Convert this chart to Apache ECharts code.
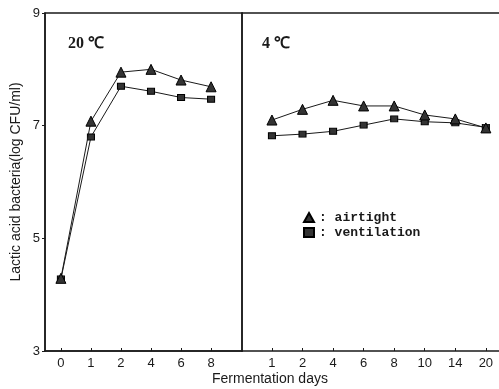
<!DOCTYPE html>
<html>
<head>
<meta charset="utf-8">
<script src="https://cdn.jsdelivr.net/npm/echarts@6/dist/echarts.min.js"></script>
<style>html,body{margin:0;padding:0;background:#fff}#c{width:499px;height:389px}</style>
</head>
<body>
<div id="c"></div>
<script>
var days20 = ['0', '1', '2', '4', '6', '8'];
var days4 = ['1', '2', '4', '6', '8', '10', '14', '20'];
var airtight20 = [4.29, 7.08, 7.95, 8.0, 7.81, 7.69];
var ventilation20 = [4.28, 6.80, 7.70, 7.61, 7.50, 7.47];
var airtight4 = [7.10, 7.29, 7.45, 7.35, 7.35, 7.19, 7.12, 6.96];
var ventilation4 = [6.82, 6.85, 6.90, 7.01, 7.12, 7.07, 7.05, 6.97];
var yTicks = [3, 5, 7, 9];

function pts(arr) { return arr.map(function (v, i) { return [i, v]; }); }
function idx(arr) { return arr.map(function (d, i) { return i; }); }

var chart = echarts.init(document.getElementById('c'));
var ink = '#1a1a1a';
var axisFont = { color: ink, fontFamily: 'Liberation Sans, Arial, sans-serif', fontSize: 13 };

function xAxis(gridIndex, labels, min, max) {
  return {
    type: 'value', gridIndex: gridIndex, min: min, max: max,
    axisLine: { show: true, onZero: false, lineStyle: { color: ink, width: 1.5 } },
    axisTick: { show: true, inside: true, length: 3, customValues: idx(labels), lineStyle: { color: ink } },
    axisLabel: Object.assign({ customValues: idx(labels), margin: 6,
      formatter: function (v) { return labels[Math.round(v)]; } }, axisFont),
    splitLine: { show: false }
  };
}

function series(name, data, gridIndex, symbol, size) {
  return {
    name: name, type: 'line', xAxisIndex: gridIndex, yAxisIndex: gridIndex,
    data: pts(data), symbol: symbol, symbolSize: size, showSymbol: true,
    lineStyle: { color: ink, width: 1 },
    itemStyle: { color: '#333', borderColor: '#000', borderWidth: 1 },
    z: symbol === 'triangle' ? 3 : 2
  };
}

chart.setOption({
  animation: false,
  backgroundColor: '#fff',
  grid: [
    { left: 45, right: 257, top: 13, bottom: 38, show: true, borderColor: ink, borderWidth: 1.5, backgroundColor: 'transparent' },
    { left: 242, right: 0, top: 13, bottom: 38, show: false }
  ],
  xAxis: [
    xAxis(0, days20, -0.53, 6.03),
    xAxis(1, days4, -0.98, 7.43),
    { type: 'value', gridIndex: 1, position: 'top', min: 0, max: 1,
      axisLine: { show: true, onZero: false, lineStyle: { color: ink, width: 1.5 } },
      axisTick: { show: false }, axisLabel: { show: false }, splitLine: { show: false } }
  ],
  yAxis: [
    { type: 'value', gridIndex: 0, min: 3, max: 9, interval: 2,
      name: 'Lactic acid bacteria(log CFU/ml)', nameLocation: 'middle', nameGap: 22,
      nameTextStyle: { color: ink, fontFamily: 'Liberation Sans, Arial, sans-serif', fontSize: 14 },
      axisLine: { show: true, onZero: false, lineStyle: { color: ink, width: 1.5 } },
      axisTick: { show: true, length: 3, lineStyle: { color: ink } },
      axisLabel: Object.assign({ margin: 5 }, axisFont),
      splitLine: { show: false } },
    { type: 'value', gridIndex: 1, min: 3, max: 9, interval: 2,
      axisLine: { show: true, onZero: false, lineStyle: { color: ink, width: 1.5 } },
      axisTick: { show: false }, axisLabel: { show: false },
      splitLine: { show: false } }
  ],
  title: [
    { text: '20 ℃', left: 63, top: 31, textStyle: { fontFamily: 'Liberation Serif, serif', fontWeight: 'bold', fontSize: 16, color: ink } },
    { text: '4 ℃', left: 257, top: 31, textStyle: { fontFamily: 'Liberation Serif, serif', fontWeight: 'bold', fontSize: 16, color: ink } }
  ],
  legend: {
    orient: 'vertical', left: 298, top: 206, itemGap: 2, itemWidth: 10, itemHeight: 9,
    data: [{ name: 'airtight', icon: 'triangle' }, { name: 'ventilation', icon: 'rect' }],
    formatter: function (n) { return ': ' + n; },
    textStyle: { fontFamily: 'Liberation Mono, monospace', fontWeight: 'bold', fontSize: 13, color: ink },
    itemStyle: { color: '#333' }
  },
  graphic: [
    { type: 'text', left: 212, top: 372, style: { text: 'Fermentation days', fill: ink, font: '14px "Liberation Sans", Arial, sans-serif' } }
  ],
  series: [
    series('ventilation', ventilation20, 0, 'rect', [7, 6]),
    series('airtight', airtight20, 0, 'triangle', 10),
    series('ventilation', ventilation4, 1, 'rect', [7, 6]),
    series('airtight', airtight4, 1, 'triangle', 10)
  ]
});
</script>
</body>
</html>
